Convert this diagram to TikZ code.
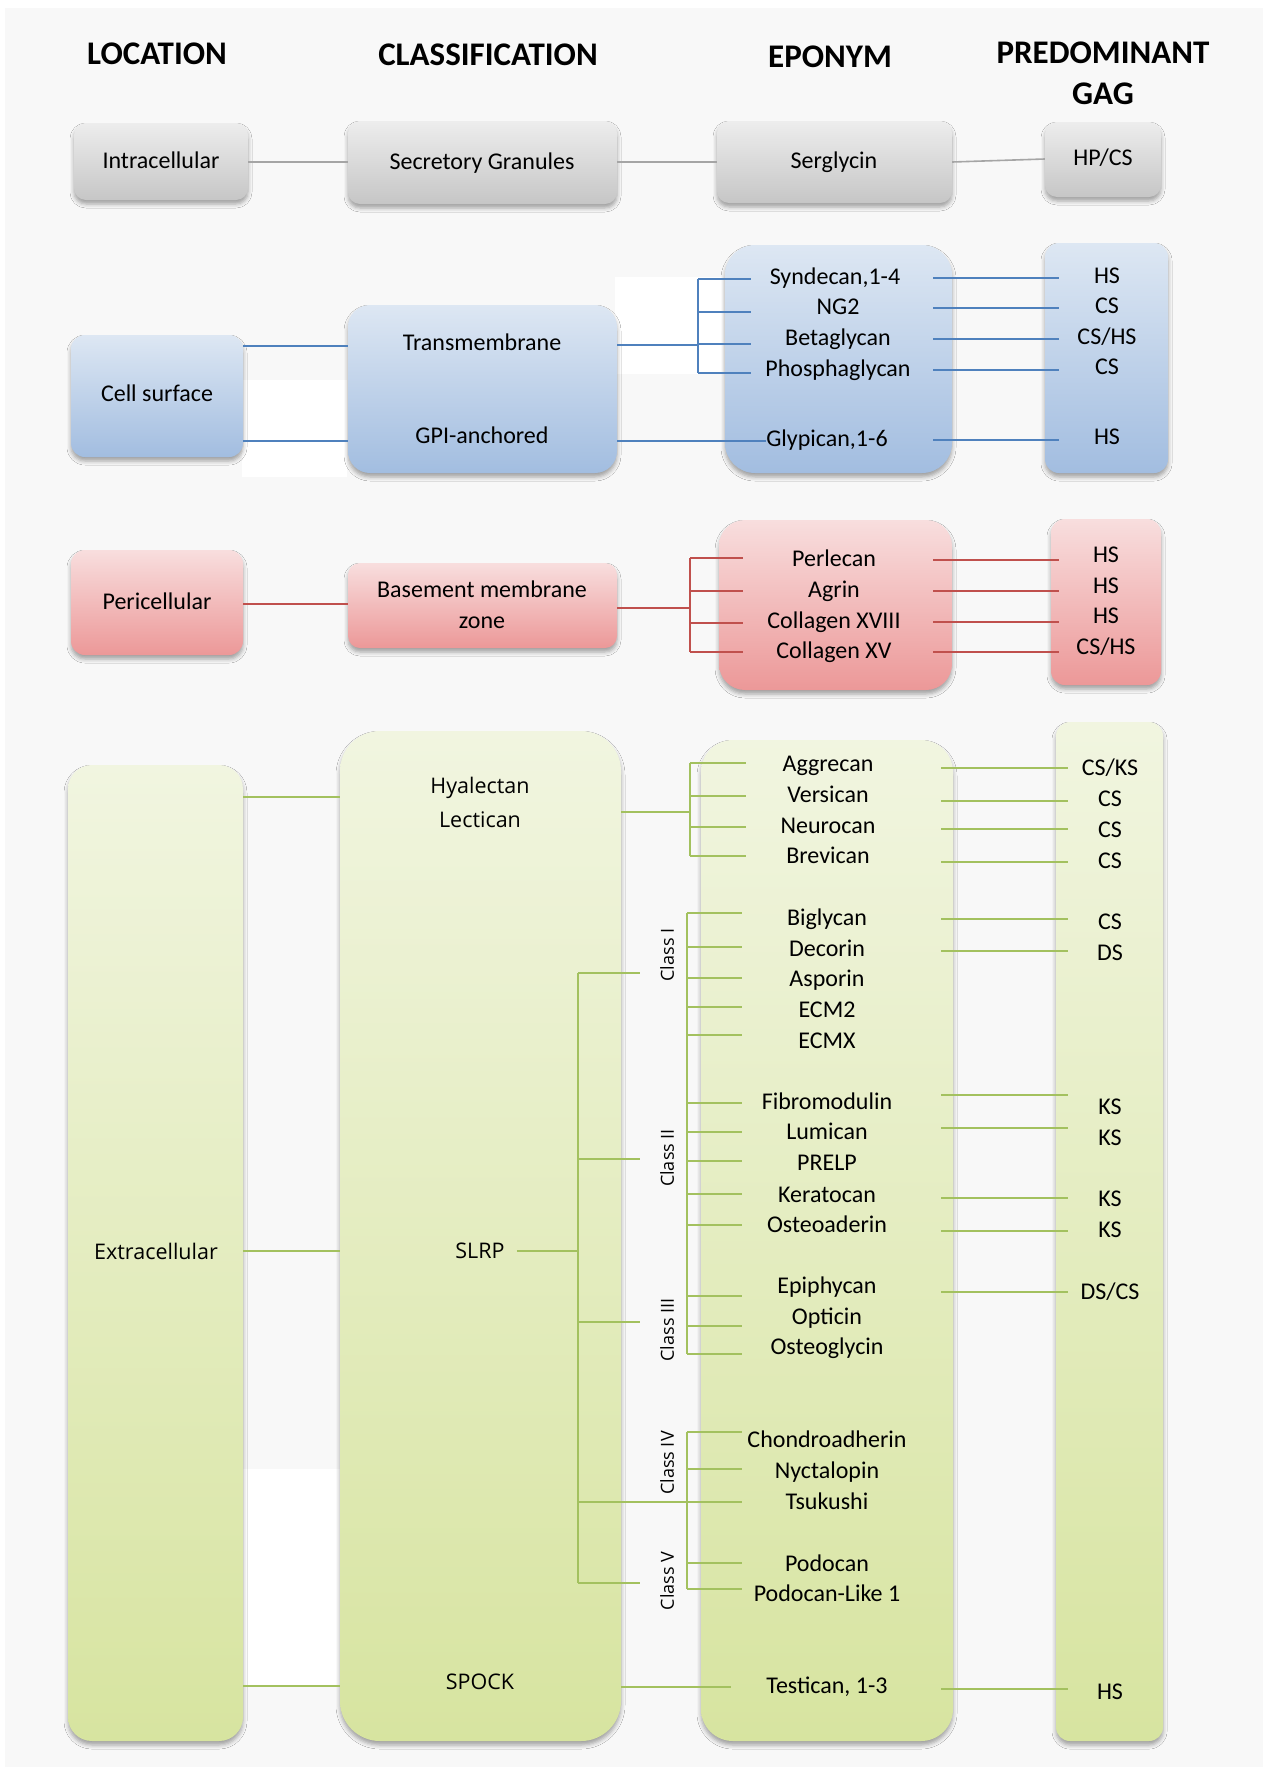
\documentclass[tikz,border=0pt]{standalone}
\usepackage{fontspec}
\setmainfont{Carlito}
\newfontfamily\vfont{Open Sans}
\usetikzlibrary{shadows.blur}
\definecolor{bg}{HTML}{F8F8F8}
\definecolor{lgray}{HTML}{A5A5A5}
\definecolor{lblue}{HTML}{4F81BD}
\definecolor{lred}{HTML}{C0504D}
\definecolor{lgreen}{HTML}{A3C15F}
\definecolor{gtop}{HTML}{EDEDED}\definecolor{gbot}{HTML}{C6C6C6}
\definecolor{btop}{HTML}{DDE7F3}\definecolor{bbot}{HTML}{A2BDE0}
\definecolor{rtop}{HTML}{F8DEDE}\definecolor{rbot}{HTML}{EC9898}
\definecolor{vtop}{HTML}{F1F5E0}\definecolor{vbot}{HTML}{D7E4A0}
\tikzset{
 bx/.style={draw=none, inner sep=0pt, blur shadow={shadow xshift=0pt, shadow yshift=-4pt, shadow blur radius=4pt, shadow opacity=35}},
 gbx/.style={bx, top color=gtop, bottom color=gbot, rounded corners=12pt},
 bbx/.style={bx, top color=btop, bottom color=bbot},
 rbx/.style={bx, top color=rtop, bottom color=rbot},
 vbx/.style={bx, top color=vtop, bottom color=vbot},
 lbl/.style={font=\fontsize{24}{26}\selectfont, inner sep=0pt, text height=16pt, text depth=4pt},
 hdr/.style={font=\bfseries\fontsize{33}{35}\selectfont, inner sep=0pt},
 vl/.style={font=\vfont\fontsize{21.5}{23}\selectfont, inner sep=0pt},
 cl/.style={font=\vfont\fontsize{18}{19}\selectfont, inner sep=0pt, rotate=90},
 gln/.style={draw=lgray, line width=1.6pt},
 bln/.style={draw=lblue, line width=1.6pt},
 rln/.style={draw=lred, line width=1.6pt},
 vln/.style={draw=lgreen, line width=1.6pt},
}
\begin{document}
\begin{tikzpicture}[x=1pt,y=-1pt]
\fill[white] (0,0) rectangle (1263,1767);
\fill[bg] (5,8) rectangle (1263,1767);
\useasboundingbox (0,0) rectangle (1263,1767);
% white patches of the original background
\fill[white] (242,380) rectangle (347,477);
\fill[white] (615,277) rectangle (723,374);
\fill[white] (242,1469) rectangle (340,1686);
% headers
\node[hdr] (hLoc) at (157,54) {LOCATION};
\node[hdr] (hCla) at (488,55) {CLASSIFICATION};
\node[hdr] (hEpo) at (830,57) {EPONYM};
\node[hdr] (hPre) at (1103,53) {PREDOMINANT};
\node[hdr] (hGag) at (1103,94) {GAG};
% ---------- row 1
\node[gbx, minimum width=174pt, minimum height=77pt] (bIntra) at (161,161.5) {};
\node[gbx, minimum width=269pt, minimum height=83pt] (bSec) at (482.5,162.5) {};
\node[gbx, minimum width=235pt, minimum height=82pt] (bSerg) at (834.5,162) {};
\node[gbx, minimum width=116pt, minimum height=75pt] (bHp) at (1103,159.5) {};
\node[lbl] (tIntra) at (161,162) {Intracellular};
\node[lbl] (tSec) at (482,163) {Secretory Granules};
\node[lbl] (tSerg) at (834,162) {Serglycin};
\node[lbl] (tHp) at (1103,159) {HP/CS};
\draw[gln] (bIntra.east |- tIntra) -- (bSec.west |- tIntra);
\draw[gln] (bSec.east |- tIntra) -- (bSerg.west |- tIntra);
\draw[gln] (bSerg.east |- tSerg) -- (bHp.west |- tHp);
% ---------- row 2
\node[bbx, rounded corners=14pt, minimum width=172pt, minimum height=122pt] (bCell) at (157,396) {};
\node[bbx, rounded corners=22pt, minimum width=269pt, minimum height=168pt] (bTm) at (482.5,389) {};
\node[bbx, rounded corners=30pt, minimum width=227pt, minimum height=228pt] (bEpB) at (838.5,359) {};
\node[bbx, rounded corners=14pt, minimum width=123pt, minimum height=230pt] (bGaB) at (1106.5,358) {};
\node[lbl] (tCell) at (157,395) {Cell surface};
\node[lbl] (tTm) at (482,344) {Transmembrane};
\node[lbl] (tGpi) at (482,437) {GPI-anchored};
\node[lbl] (eSyn) at (835,278) {Syndecan,1-4};
\node[lbl] (eNg) at (838,308) {NG2};
\node[lbl] (eBeta) at (838,339) {Betaglycan};
\node[lbl] (ePhos) at (838,370) {Phosphaglycan};
\node[lbl] (eGly) at (827,440) {Glypican,1-6};
\node[lbl] (gB1) at (1107,277) {HS};
\node[lbl] (gB2) at (1107,307) {CS};
\node[lbl] (gB3) at (1107,338) {CS/HS};
\node[lbl] (gB4) at (1107,368) {CS};
\node[lbl] (gB5) at (1107,438) {HS};
\coordinate (jB) at (698,345);
\coordinate (kB) at (751,0);
\coordinate (pB) at (933,0);
\coordinate (qB) at (1059,0);
\draw[bln] (bCell.east |- 0,346) -- (bTm.west |- 0,346);
\draw[bln] (bCell.east |- 0,441) -- (bTm.west |- 0,441);
\draw[bln] (bTm.east |- jB) -- (jB);
\draw[bln] (jB |- 0,279) -- (jB |- 0,373);
\foreach \yy in {279,312,344,373} \draw[bln] (jB |- 0,\yy) -- (kB |- 0,\yy);
\draw[bln] (bTm.east |- 0,441) -- (eGly.west |- 0,441);
\foreach \e/\g in {eSyn/gB1,eNg/gB2,eBeta/gB3,ePhos/gB4,eGly/gB5} \draw[bln] (pB |- \e) -- (qB |- \e);
% ---------- row 3
\node[rbx, rounded corners=14pt, minimum width=172pt, minimum height=105pt] (bPeri) at (157,602.5) {};
\node[rbx, rounded corners=12pt, minimum width=269pt, minimum height=85pt] (bBmz) at (482.5,605.5) {};
\node[rbx, rounded corners=26pt, minimum width=233pt, minimum height=170pt] (bEpR) at (835.5,605) {};
\node[rbx, rounded corners=14pt, minimum width=110pt, minimum height=166pt] (bGaR) at (1106,602) {};
\node[lbl] (tPeri) at (157,603) {Pericellular};
\node[lbl] (tBmz1) at (482,591) {Basement membrane};
\node[lbl] (tBmz2) at (482,622) {zone};
\node[lbl] (ePerl) at (834,560) {Perlecan};
\node[lbl] (eAgr) at (834,591) {Agrin};
\node[lbl] (eC18) at (834,622) {Collagen XVIII};
\node[lbl] (eC15) at (834,652) {Collagen XV};
\node[lbl] (gR1) at (1106,556) {HS};
\node[lbl] (gR2) at (1106,587) {HS};
\node[lbl] (gR3) at (1106,617) {HS};
\node[lbl] (gR4) at (1106,648) {CS/HS};
\coordinate (jR) at (690,608);
\coordinate (kR) at (743,0);
\draw[rln] (bPeri.east |- 0,604) -- (bBmz.west |- 0,604);
\draw[rln] (bBmz.east |- jR) -- (jR);
\draw[rln] (jR |- 0,558) -- (jR |- 0,652);
\foreach \yy in {558,591,623,652} \draw[rln] (jR |- 0,\yy) -- (kR |- 0,\yy);
\foreach \e/\g in {ePerl/gR1,eAgr/gR2,eC18/gR3,eC15/gR4} \draw[rln] (pB |- \e) -- (qB |- \e);
% ---------- row 4
\node[vbx, rounded corners=24pt, minimum width=175pt, minimum height=976pt] (bExt) at (155.5,1253) {};
\node[vbx, rounded corners=40pt, minimum width=281pt, minimum height=1010pt] (bCls) at (480.5,1236) {};
\node[vbx, rounded corners=32pt, minimum width=252pt, minimum height=1001pt] (bEpG) at (827,1240.5) {};
\node[vbx, rounded corners=14pt, minimum width=107pt, minimum height=1019pt] (bGaG) at (1109.5,1231.5) {};
\node[vl] (tExt) at (156,1251) {Extracellular};
\node[vl] (tHya) at (480,788) {Hyalectan};
\node[vl] (tLec) at (480,820) {Lectican};
\node[vl] (tSlrp) at (480,1251) {SLRP};
\node[vl] (tSpock) at (480,1682) {SPOCK};
\draw[vln] (bExt.east |- 0,797) -- (bCls.west |- 0,797);
\draw[vln] (bExt.east |- 0,1251) -- (bCls.west |- 0,1251);
\draw[vln] (bExt.east |- 0,1686) -- (bCls.west |- 0,1686);
% hyalectans
\node[lbl] (eAgg) at (828,765) {Aggrecan};
\node[lbl] (eVer) at (828,796) {Versican};
\node[lbl] (eNeu) at (828,827) {Neurocan};
\node[lbl] (eBre) at (828,857) {Brevican};
\node[lbl] (gG1) at (1110,769) {CS/KS};
\node[lbl] (gG2) at (1110,800) {CS};
\node[lbl] (gG3) at (1110,831) {CS};
\node[lbl] (gG4) at (1110,862) {CS};
\coordinate (jH) at (690,812);
\coordinate (kH) at (746,0);
\coordinate (pG) at (941,0);
\coordinate (qG) at (1068,0);
\draw[vln] (bCls.east |- jH) -- (jH);
\draw[vln] (jH |- 0,763) -- (jH |- 0,856);
\foreach \yy in {763,796,827,856} \draw[vln] (jH |- 0,\yy) -- (kH |- 0,\yy);
\draw[vln] (pG |- 0,768) -- (qG |- 0,768);
\draw[vln] (pG |- 0,801) -- (qG |- 0,801);
\draw[vln] (pG |- 0,829) -- (qG |- 0,829);
\draw[vln] (pG |- 0,862) -- (qG |- 0,862);
% SLRP eponyms
\node[lbl] (eBig) at (827,919) {Biglycan};
\node[lbl] (eDec) at (827,950) {Decorin};
\node[lbl] (eAsp) at (827,980) {Asporin};
\node[lbl] (eEcm2) at (827,1011) {ECM2};
\node[lbl] (eEcmx) at (827,1042) {ECMX};
\node[lbl] (eFib) at (827,1103) {Fibromodulin};
\node[lbl] (eLum) at (827,1133) {Lumican};
\node[lbl] (ePre) at (827,1164) {PRELP};
\node[lbl] (eKer) at (827,1196) {Keratocan};
\node[lbl] (eOad) at (827,1226) {Osteoaderin};
\node[lbl] (eEpi) at (827,1287) {Epiphycan};
\node[lbl] (eOpt) at (827,1318) {Opticin};
\node[lbl] (eOgl) at (827,1348) {Osteoglycin};
\node[lbl] (eCho) at (827,1441) {Chondroadherin};
\node[lbl] (eNyc) at (827,1472) {Nyctalopin};
\node[lbl] (eTsu) at (827,1503) {Tsukushi};
\node[lbl] (ePod) at (827,1565) {Podocan};
\node[lbl] (ePl1) at (827,1595) {Podocan-Like 1};
\node[lbl] (eTes) at (827,1687) {Testican, 1-3};
\node[lbl] (gS1) at (1110,923) {CS};
\node[lbl] (gS2) at (1110,954) {DS};
\node[lbl] (gS3) at (1110,1108) {KS};
\node[lbl] (gS4) at (1110,1139) {KS};
\node[lbl] (gS5) at (1110,1200) {KS};
\node[lbl] (gS6) at (1110,1231) {KS};
\node[lbl] (gS7) at (1110,1293) {DS/CS};
\node[lbl] (gS8) at (1110,1693) {HS};
\foreach \yy in {919,951,1095,1128,1198,1231,1292,1689} \draw[vln] (pG |- 0,\yy) -- (qG |- 0,\yy);
% class labels
\node[cl] (cI) at (667,955) {Class I};
\node[cl] (cII) at (667,1158) {Class II};
\node[cl] (cIII) at (667,1330) {Class III};
\node[cl] (cIV) at (667,1463) {Class IV};
\node[cl] (cV) at (667,1581) {Class V};
% SLRP tree
\coordinate (jS) at (578,1251);
\coordinate (kS) at (640,0);
\coordinate (jC) at (687,0);
\coordinate (kC) at (742,0);
\draw[vln] (tSlrp.east) ++(12pt,0) coordinate (sS) -- (jS);
\draw[vln] (jS |- 0,973) -- (jS |- 0,1583);
\foreach \yy in {973,1159,1322,1583} \draw[vln] (jS |- 0,\yy) -- (kS |- 0,\yy);
\draw[vln] (jS |- 0,1502) -- (kC |- 0,1502);
\draw[vln] (jC |- 0,913) -- (jC |- 0,1354);
\draw[vln] (jC |- 0,1432) -- (jC |- 0,1589);
\foreach \yy in {913,947,978,1007,1035,1103,1132,1161,1194,1225,1296,1326,1354,1432,1469,1563,1589} \draw[vln] (jC |- 0,\yy) -- (kC |- 0,\yy);
% SPOCK
\draw[vln] (bCls.east |- 0,1687) -- (731,1687) coordinate (tEnd);
\end{tikzpicture}
\end{document}
